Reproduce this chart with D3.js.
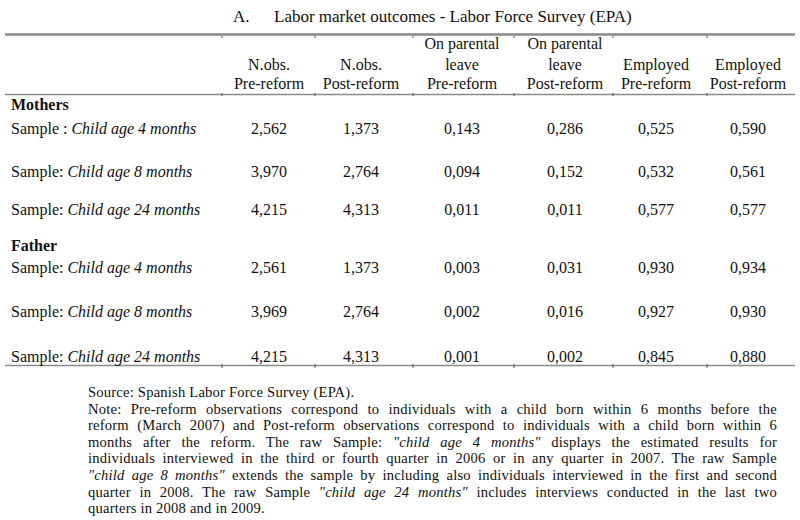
<!DOCTYPE html>
<html><head><meta charset="utf-8">
<script src="https://cdn.jsdelivr.net/npm/d3@7"></script>
<style>
html,body{margin:0;padding:0;background:#fff;}
svg text{font-family:"Liberation Serif","Times New Roman",serif;fill:#111;}
</style></head>
<body><svg id="c" width="800" height="520"></svg>
<script>
// ---- data ----
const titleLetter = "A.";
const title = "Labor market outcomes - Labor Force Survey (EPA)";
const columns = [
  ["", "N.obs.", "Pre-reform"],
  ["", "N.obs.", "Post-reform"],
  ["On parental", "leave", "Pre-reform"],
  ["On parental", "leave", "Post-reform"],
  ["", "Employed", "Pre-reform"],
  ["", "Employed", "Post-reform"]
];
const groups = ["Mothers", "Father"];
const rowPrefixes = [["Sample : ", "Sample: ", "Sample: "], ["Sample: ", "Sample: ", "Sample: "]];
const rowLabels = ["Child age 4 months", "Child age 8 months", "Child age 24 months"];
const mothersValues = [
  ["2,562", "1,373", "0,143", "0,286", "0,525", "0,590"],
  ["3,970", "2,764", "0,094", "0,152", "0,532", "0,561"],
  ["4,215", "4,313", "0,011", "0,011", "0,577", "0,577"]
];
const fatherValues = [
  ["2,561", "1,373", "0,003", "0,031", "0,930", "0,934"],
  ["3,969", "2,764", "0,002", "0,016", "0,927", "0,930"],
  ["4,215", "4,313", "0,001", "0,002", "0,845", "0,880"]
];
const noteLines = [
  [["Source: Spanish Labor Force Survey (EPA).", false]],
  [["Note: Pre-reform observations correspond to individuals with a child born within 6 months before the", false]],
  [["reform (March 2007) and Post-reform observations correspond to individuals with a child born within 6", false]],
  [["months after the reform. The raw Sample: ", false], ["\"child age 4 months\"", true], [" displays the estimated results for", false]],
  [["individuals interviewed in the third or fourth quarter in 2006 or in any quarter in 2007. The raw Sample", false]],
  [["\"child age 8 months\"", true], [" extends the sample by including also individuals interviewed in the first and second", false]],
  [["quarter in 2008. The raw Sample ", false], ["\"child age 24 months\"", true], [" includes interviews conducted in the last two", false]],
  [["quarters in 2008 and in 2009.", false]]
];
const justified = [false, true, true, true, true, true, true, false];

// ---- layout ----
const svg = d3.select("#c");
const colCenters = [269, 361, 462, 565, 656, 748];
const colX = d3.scaleOrdinal().domain(d3.range(6)).range(colCenters);
const sepX = [222, 315, 413, 514, 613, 707];
const left = 5, right = 795;
const FS = 16;

const tt = svg.append("text").attr("y", 22).attr("font-size", 17);
tt.append("tspan").attr("x", 233).text(titleLetter);
tt.append("tspan").attr("x", 274).text(title);

// rules
svg.append("line").attr("x1", left).attr("x2", right).attr("y1", 34.5).attr("y2", 34.5)
  .attr("stroke", "#8a8a8a").attr("stroke-width", 2.5);
svg.append("line").attr("x1", left).attr("x2", right).attr("y1", 94.5).attr("y2", 94.5)
  .attr("stroke", "#8a8a8a").attr("stroke-width", 1.5);
svg.append("line").attr("x1", left).attr("x2", right).attr("y1", 365.5).attr("y2", 365.5)
  .attr("stroke", "#8a8a8a").attr("stroke-width", 1.3);
// tiny column markers
[[36, 38], [93, 96], [364, 368]].forEach(([a, b]) => {
  svg.selectAll(null).data(sepX).enter().append("line")
    .attr("x1", d => d).attr("x2", d => d).attr("y1", a).attr("y2", b)
    .attr("stroke", "#555").attr("stroke-width", 1);
});

// header
const headY = [49, 70, 89];
columns.forEach((col, i) => {
  col.forEach((t, k) => {
    if (!t) return;
    svg.append("text").attr("x", colX(i)).attr("y", headY[k]).attr("text-anchor", "middle")
      .attr("font-size", FS).text(t);
  });
});

// body
const groupY = [110, 251];
const rowY = [[134, 177, 215], [273, 317, 362]];
const valuesByGroup = [mothersValues, fatherValues];
groups.forEach((g, gi) => {
  svg.append("text").attr("x", 11).attr("y", groupY[gi]).attr("font-size", FS)
    .attr("font-weight", "bold").text(g);
  valuesByGroup[gi].forEach((vals, ri) => {
    const t = svg.append("text").attr("x", 11).attr("y", rowY[gi][ri]).attr("font-size", FS);
    t.append("tspan").text(rowPrefixes[gi][ri]);
    t.append("tspan").attr("font-style", "italic").text(rowLabels[ri]);
    vals.forEach((v, ci) => {
      svg.append("text").attr("x", colX(ci)).attr("y", rowY[gi][ri]).attr("text-anchor", "middle")
        .attr("font-size", FS).text(v);
    });
  });
});

// notes (justified via word-spacing)
const nx = 88, nRight = 777;
noteLines.forEach((parts, i) => {
  const t = svg.append("text").attr("x", nx).attr("y", 397 + i * 16.6).attr("font-size", 14.6)
    .attr("xml:space", "preserve").style("letter-spacing", "0.2px");
  parts.forEach(([s, it]) => {
    const sp = t.append("tspan").text(s);
    if (it) sp.attr("font-style", "italic");
  });
  if (justified[i]) {
    const w = t.node().getComputedTextLength();
    const nSpaces = parts.map(p => p[0]).join("").split(" ").length - 1;
    const extra = Math.max(0, (nRight - nx - w) / nSpaces);
    t.style("word-spacing", extra + "px");
  }
});
</script></body></html>
